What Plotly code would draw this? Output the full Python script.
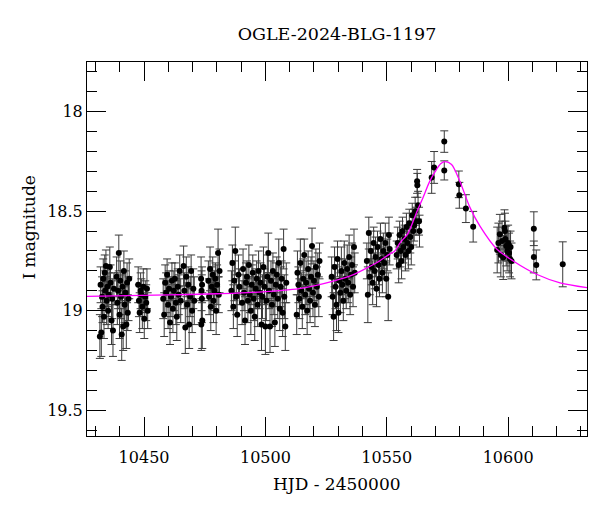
import plotly.graph_objects as go

# ---- observations: HJD-2450000, I magnitude, error ----
hjd = [
    # season chunk A
    10431.8, 10432.1, 10432.4, 10432.7, 10432.9, 10433.2, 10433.5, 10433.8, 10434.0, 10434.3,
    10434.6, 10434.9, 10435.2, 10435.5, 10435.9, 10436.2, 10436.6, 10436.9, 10437.2, 10437.6,
    10438.7, 10439.0, 10439.3, 10439.6, 10439.9, 10440.2, 10440.5, 10440.8, 10441.1, 10441.4,
    10441.7, 10442.0, 10442.3, 10442.7, 10443.0, 10443.3, 10443.6, 10443.9,
    # B
    10447.6, 10447.9, 10448.2, 10448.6, 10448.9, 10449.3, 10449.7, 10450.1, 10450.5, 10450.9,
    10451.2, 10451.5,
    # C
    10457.9, 10458.3, 10458.7, 10459.1, 10459.5, 10459.9, 10460.3, 10460.7, 10461.1, 10461.5,
    10461.9, 10462.3, 10462.7, 10463.1, 10463.5, 10463.9, 10464.3, 10464.7, 10465.1,
    10466.3, 10466.6, 10467.0, 10467.4, 10467.8, 10468.2, 10468.6, 10469.0, 10469.4, 10469.8,
    10470.3, 10470.7,
    # D
    10473.5, 10473.6, 10473.7, 10473.8, 10473.9, 10474.0,
    # E
    10476.5, 10476.8, 10477.2, 10477.5, 10477.9, 10478.3, 10478.6, 10479.0, 10479.4, 10479.7,
    10480.1, 10480.5, 10480.8, 10481.1,
    # F
    10486.0, 10486.4, 10486.8, 10487.2, 10487.6, 10488.0, 10488.4, 10488.9, 10489.3,
    10490.4, 10490.8, 10491.2, 10491.6, 10492.0, 10492.4, 10492.8, 10493.2, 10493.6, 10494.0,
    10494.4, 10494.8, 10495.2, 10495.6, 10496.0, 10496.4, 10496.8, 10497.2, 10497.6, 10498.0,
    10498.4, 10498.8, 10499.2, 10499.6, 10500.0, 10500.4, 10500.8, 10501.2, 10501.5, 10501.9,
    10502.3, 10502.7, 10503.1, 10503.5, 10503.9, 10504.3, 10504.7, 10505.1, 10505.5, 10505.9,
    10506.3, 10506.7, 10507.1, 10507.5, 10507.8, 10508.2, 10508.6,
    # G
    10512.9, 10513.2, 10513.6, 10514.0, 10514.4, 10514.8, 10515.2, 10515.6, 10516.0, 10516.4,
    10516.8, 10517.2, 10517.6, 10518.0, 10518.4, 10518.8, 10519.2, 10519.6, 10520.0, 10520.4,
    10520.8, 10521.2, 10521.6, 10522.0, 10522.3,
    # H
    10527.3, 10527.7, 10528.1, 10528.5, 10528.9, 10529.3, 10529.7, 10530.1, 10530.5, 10530.9,
    10531.3, 10531.7, 10532.1, 10532.5, 10532.9, 10533.3, 10533.7, 10534.1, 10534.5, 10534.9,
    10535.3, 10535.7, 10536.1, 10536.5, 10536.8,
    # I
    10541.8, 10542.2, 10542.6, 10543.0, 10543.4, 10543.8, 10544.2, 10544.6, 10545.0, 10545.4,
    10545.8, 10546.2, 10546.6, 10547.0, 10547.4, 10547.8, 10548.2, 10548.6, 10549.0, 10549.4,
    10549.8, 10550.2, 10550.6, 10550.9, 10551.2,
    # J
    10554.1, 10554.5, 10554.9, 10555.3, 10555.7, 10556.1, 10556.5, 10556.9, 10557.3, 10557.7,
    10558.1, 10558.5, 10558.9, 10559.3, 10559.7, 10560.1, 10560.5, 10560.9, 10561.3, 10561.7,
    10562.1, 10562.5, 10562.6, 10562.9, 10563.3, 10563.5,
    # peak and decline
    10568.5, 10569.5, 10573.7, 10573.7, 10579.7, 10579.9, 10582.6, 10585.6,
    # late
    10595.5, 10596.0, 10596.6, 10597.0, 10597.5, 10598.0, 10598.5, 10598.7, 10598.9, 10599.2,
    10599.6, 10600.0, 10600.4, 10600.8, 10601.0, 10601.4,
    10610.6, 10610.6, 10611.6, 10622.5,
]

mag = [
    19.13, 18.87, 19.11, 18.93, 18.98, 18.84, 19.03, 18.81, 18.90, 18.775,
    18.95, 18.88, 19.00, 18.92, 18.78, 18.86, 19.05, 18.94, 19.10, 18.89,
    18.83, 18.96, 18.90, 18.71, 19.02, 18.85, 18.93, 19.12, 18.88, 19.08,
    18.80, 18.97, 18.91, 19.07, 18.86, 19.01, 18.94, 18.84,
    18.87, 18.95, 19.01, 18.90, 18.92, 18.98, 18.88, 19.04, 18.93, 18.96,
    18.89, 19.00,
    18.94, 19.02, 18.86, 18.91, 18.82, 18.97, 18.89, 19.06, 18.93, 18.85,
    18.99, 18.90, 18.84, 18.96, 19.03, 18.88, 18.92, 18.80, 18.95,
    18.775, 18.90, 19.085, 18.83, 18.97, 18.87, 19.07, 18.93, 18.80, 19.00,
    18.89, 18.95,
    18.84, 19.07, 18.90, 18.94, 18.87, 19.05,
    18.85, 18.93, 18.79, 18.98, 18.88, 18.82, 18.95, 18.90, 18.84, 19.00,
    18.87, 18.71, 18.92, 18.80,
    18.90, 18.76, 18.98, 18.85, 18.70, 18.93, 19.02, 18.82, 18.88,
    18.96, 18.79, 18.91, 19.05, 18.86, 18.83, 18.95, 18.77, 18.92, 19.00,
    18.87, 18.81, 18.94, 19.03, 18.89, 18.84, 18.97, 18.80, 18.91, 18.86,
    19.07, 18.93, 18.78, 18.88, 19.08, 18.95, 18.83, 18.71, 18.90, 19.08,
    18.85, 18.97, 18.80, 18.92, 19.06, 18.87, 18.82, 18.94, 18.76, 18.99,
    18.88, 18.84, 19.01, 18.69, 18.93, 19.08, 18.86,
    19.02, 18.81, 18.87, 18.94, 18.76, 18.90, 18.98, 18.84, 18.72, 18.92,
    18.86, 19.00, 18.79, 18.89, 18.95, 18.83, 18.675, 18.91, 18.85, 18.97,
    18.78, 18.88, 18.82, 18.93, 18.75,
    18.83, 18.93, 19.03, 18.78, 18.88, 18.97, 18.74, 19.01, 18.85, 18.91,
    18.80, 18.87, 18.95, 18.76, 18.84, 18.90, 18.79, 18.86, 18.73, 18.92,
    18.82, 18.77, 18.88, 18.68, 18.81,
    18.75, 18.92, 18.61, 18.83, 18.70, 18.78, 18.86, 18.66, 18.80, 18.73,
    18.89, 18.68, 18.77, 18.84, 18.64, 18.74, 18.81, 18.70, 18.76, 18.66,
    18.84, 18.72, 18.93, 18.62, 18.69,
    18.72, 18.66, 18.77, 18.62, 18.70, 18.75, 18.60, 18.68, 18.64, 18.72,
    18.58, 18.66, 18.70, 18.56, 18.63, 18.68, 18.52, 18.60, 18.57, 18.50,
    18.55, 18.35, 18.37, 18.47, 18.55, 18.60,
    18.33, 18.28, 18.15, 18.295, 18.365, 18.42, 18.487, 18.578,
    18.695, 18.66, 18.616, 18.72, 18.65, 18.733, 18.583, 18.60, 18.64, 18.675,
    18.70, 18.66, 18.71, 18.74, 18.68, 18.75,
    18.588, 18.73, 18.77, 18.767,
]

err = [
    0.11, 0.09, 0.12, 0.10, 0.08, 0.10, 0.11, 0.09, 0.10, 0.08,
    0.12, 0.10, 0.09, 0.11, 0.10, 0.09, 0.12, 0.10, 0.13, 0.08,
    0.10, 0.11, 0.09, 0.09, 0.12, 0.10, 0.11, 0.13, 0.08, 0.12,
    0.10, 0.09, 0.11, 0.12, 0.10, 0.09, 0.11, 0.10,
    0.09, 0.08, 0.10, 0.09, 0.08, 0.11, 0.09, 0.10, 0.08, 0.09,
    0.10, 0.09,
    0.10, 0.11, 0.09, 0.10, 0.08, 0.12, 0.09, 0.11, 0.10, 0.09,
    0.12, 0.10, 0.08, 0.11, 0.12, 0.09, 0.10, 0.08, 0.11,
    0.10, 0.09, 0.13, 0.10, 0.11, 0.09, 0.12, 0.10, 0.08, 0.11,
    0.10, 0.12,
    0.11, 0.13, 0.10, 0.12, 0.09, 0.14,
    0.10, 0.09, 0.11, 0.12, 0.10, 0.09, 0.11, 0.10, 0.08, 0.12,
    0.10, 0.12, 0.09, 0.11,
    0.10, 0.09, 0.11, 0.10, 0.12, 0.09, 0.11, 0.10, 0.09,
    0.11, 0.10, 0.09, 0.12, 0.10, 0.08, 0.11, 0.10, 0.09, 0.12,
    0.10, 0.09, 0.11, 0.12, 0.10, 0.09, 0.11, 0.10, 0.08, 0.10,
    0.13, 0.11, 0.10, 0.09, 0.14, 0.10, 0.11, 0.10, 0.09, 0.13,
    0.10, 0.11, 0.09, 0.10, 0.12, 0.11, 0.09, 0.10, 0.12, 0.11,
    0.10, 0.09, 0.12, 0.10, 0.11, 0.12, 0.10,
    0.10, 0.11, 0.09, 0.10, 0.12, 0.09, 0.11, 0.10, 0.08, 0.10,
    0.11, 0.12, 0.09, 0.10, 0.11, 0.10, 0.09, 0.12, 0.10, 0.11,
    0.09, 0.10, 0.11, 0.10, 0.09,
    0.10, 0.09, 0.12, 0.10, 0.11, 0.13, 0.09, 0.10, 0.11, 0.10,
    0.12, 0.09, 0.10, 0.11, 0.10, 0.09, 0.12, 0.10, 0.11, 0.10,
    0.09, 0.11, 0.10, 0.09, 0.10,
    0.09, 0.14, 0.08, 0.09, 0.10, 0.09, 0.11, 0.08, 0.09, 0.10,
    0.09, 0.08, 0.10, 0.09, 0.08, 0.09, 0.10, 0.09, 0.08, 0.10,
    0.09, 0.08, 0.12, 0.09, 0.08,
    0.07, 0.08, 0.09, 0.07, 0.08, 0.09, 0.07, 0.08, 0.07, 0.08,
    0.07, 0.08, 0.09, 0.07, 0.08, 0.09, 0.06, 0.07, 0.08, 0.07,
    0.07, 0.06, 0.06, 0.07, 0.07, 0.08,
    0.08, 0.08, 0.054, 0.048, 0.067, 0.065, 0.07, 0.077,
    0.115, 0.10, 0.10, 0.11, 0.10, 0.11, 0.09, 0.09, 0.09, 0.10,
    0.10, 0.09, 0.10, 0.09, 0.08, 0.09,
    0.085, 0.08, 0.075, 0.113,
]

assert len(hjd) == len(mag) == len(err), (len(hjd), len(mag), len(err))

# ---- model curve ----
model_hjd = [10426.5, 10460.0, 10480.0, 10495.0, 10514.0, 10528.0, 10536.0, 10542.0, 10547.0,
             10551.0, 10553.3, 10555.4, 10558.8, 10562.5, 10565.0, 10567.5, 10570.0, 10572.2,
             10574.0, 10576.7, 10580.1, 10584.3, 10588.4, 10595.3, 10602.1, 10611.7, 10621.4,
             10632.5]
model_mag = [18.928, 18.921, 18.915, 18.908, 18.889, 18.851, 18.82, 18.784, 18.75,
             18.717, 18.70, 18.66, 18.61, 18.50, 18.43, 18.355, 18.30, 18.262,
             18.251, 18.265, 18.349, 18.482, 18.575, 18.69, 18.75, 18.817, 18.86,
             18.884]

x_range = [10426.5, 10632.5]
y_range = [19.63, 17.75]

FONT = "DejaVu Serif"

fig = go.Figure()
fig.add_trace(go.Scatter(
    x=hjd, y=mag, mode="markers",
    marker=dict(color="black", size=6),
    error_y=dict(type="data", array=err, symmetric=True, color="#3a3a3a", thickness=1, width=4),
    hoverinfo="skip",
))
fig.add_trace(go.Scatter(
    x=model_hjd, y=model_mag, mode="lines",
    line=dict(color="#ff00ff", width=1.3, shape="spline", smoothing=0.8),
    hoverinfo="skip",
))

axis_common = dict(
    showline=True, linecolor="black", linewidth=1, mirror="allticks",
    ticks="inside", ticklen=19, tickwidth=1, tickcolor="black",
    showgrid=False, zeroline=False,
    tickfont=dict(family=FONT, size=16, color="black"),
)

fig.update_xaxes(range=x_range, tick0=10450, dtick=50, tickformat="d",
                 ticklabelstandoff=7,
                 minor=dict(dtick=10, ticklen=10, ticks="inside", tickcolor="black", tickwidth=1),
                 **axis_common)
fig.update_yaxes(range=y_range, tick0=18, dtick=0.5,
                 minor=dict(dtick=0.1, ticklen=10, ticks="inside", tickcolor="black", tickwidth=1),
                 **axis_common)

fig.update_layout(
    width=600, height=512,
    margin=dict(l=87, r=13, t=62, b=76),
    paper_bgcolor="white", plot_bgcolor="white",
    showlegend=False,
    font=dict(family=FONT, size=16, color="black"),
    title=dict(text="OGLE-2024-BLG-1197", x=337/600, xanchor="center",
               y=1 - 34/512, yanchor="middle",
               font=dict(family=FONT, size=17.5, color="black")),
    annotations=[
        dict(text="HJD - 2450000", xref="paper", yref="paper", x=0.5, y=-48/374.4,
             xanchor="center", yanchor="middle", showarrow=False,
             font=dict(family=FONT, size=17, color="black")),
        dict(text="I magnitude", xref="paper", yref="paper", x=-58/500, y=(436.7-228)/374.4,
             xanchor="center", yanchor="middle", showarrow=False, textangle=-90,
             font=dict(family=FONT, size=17, color="black")),
    ],
)

fig.write_html("out.html")
